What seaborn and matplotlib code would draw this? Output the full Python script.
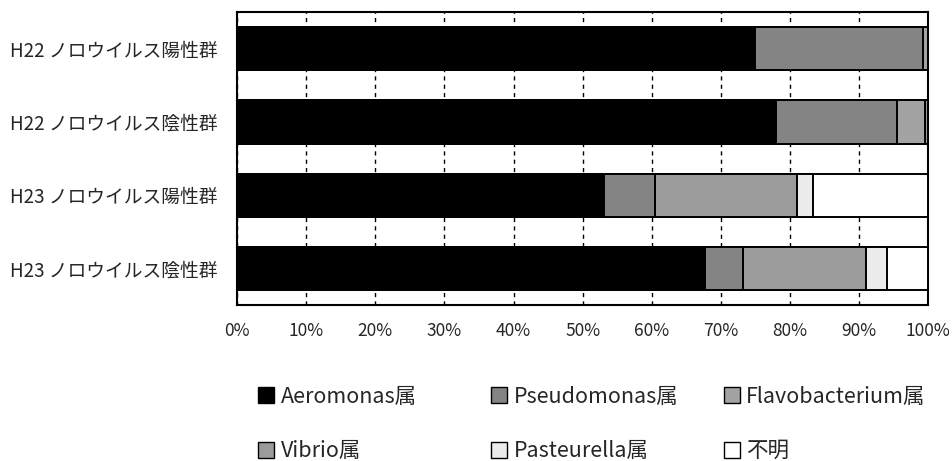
import matplotlib
matplotlib.use("Agg")
import matplotlib.pyplot as plt
from matplotlib.patches import Patch
import seaborn as sns
import pandas as pd
import numpy as np

sns.set_theme(style="white")
plt.rcParams['font.family'] = ['Noto Sans CJK JP', 'DejaVu Sans']

groups = ["H22 ノロウイルス陽性群", "H22 ノロウイルス陰性群",
          "H23 ノロウイルス陽性群", "H23 ノロウイルス陰性群"]
series = ["Aeromonas属", "Pseudomonas属", "Flavobacterium属",
          "Vibrio属", "Pasteurella属", "不明"]

aeromonas = [75.0, 78.0, 53.1, 67.7]
pseudomonas = [24.3, 17.5, 7.4, 5.5]
flavobacterium = [0.7, 4.1, 0.0, 0.0]
vibrio = [0.0, 0.4, 20.5, 17.8]
pasteurella = [0.0, 0.0, 2.3, 3.0]
unknown = [0.0, 0.0, 16.7, 6.0]

colors = ["#000000", "#848484", "#a3a3a3", "#9b9b9b", "#ececec", "#ffffff"]

values = np.array([aeromonas, pseudomonas, flavobacterium, vibrio,
                   pasteurella, unknown])
shares = values / values.sum(axis=0) * 100
cum = np.cumsum(shares, axis=0)

fig = plt.figure(figsize=(9.52, 4.61), dpi=100)
ax = fig.add_axes([0.249, 0.338, 0.726, 0.636])

# stacked bars: draw cumulative totals from the outermost series inward
for i in range(len(series) - 1, -1, -1):
    df = pd.DataFrame({"group": groups, "cum": cum[i]})
    sns.barplot(data=df, x="cum", y="group", orient="h", ax=ax,
                color=colors[i], saturation=1, width=0.59,
                edgecolor="black", linewidth=1.4, zorder=3)

ax.set_xlim(0, 100)
ax.set_ylim(3.5, -0.5)
ax.set_xticks(np.arange(0, 101, 10))
ax.set_xticklabels([f"{t}%" for t in range(0, 101, 10)], fontsize=12.5)
ax.tick_params(axis="y", labelsize=13.5, length=0, pad=14)
ax.tick_params(axis="x", length=0, pad=12)
ax.set_xlabel("")
ax.set_ylabel("")
ax.xaxis.grid(True, color="black", linestyle=(0, (3, 3)), linewidth=1.0)
ax.set_axisbelow(True)
for s in ax.spines.values():
    s.set_color("black")
    s.set_linewidth(1.5)

handles = [Patch(facecolor=colors[i], edgecolor="black", linewidth=1.0,
                 label=series[i]) for i in range(len(series))]

# three legend columns, two entries each
columns = [(0, 3), (1, 4), (2, 5)]
col_x = [0.271, 0.516, 0.760]
for (a, b), x in zip(columns, col_x):
    fig.legend([handles[a], handles[b]], [series[a], series[b]],
               loc="upper left", bbox_to_anchor=(x, 0.163), ncol=1,
               frameon=False, fontsize=15.5, handlelength=0.75,
               handleheight=0.75, handletextpad=0.3, labelspacing=1.5,
               borderaxespad=0, borderpad=0)

fig.savefig("out.png", dpi=100, facecolor="white")
